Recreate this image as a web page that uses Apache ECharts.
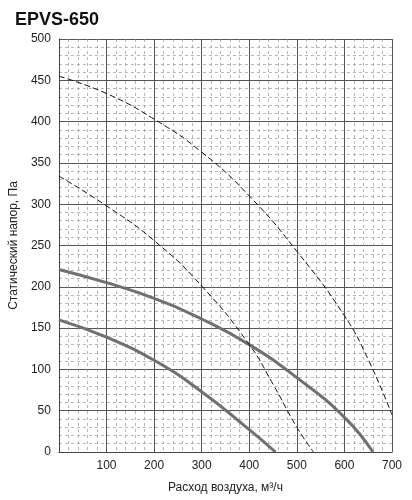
<!DOCTYPE html><html><head><meta charset="utf-8"><script src="https://cdn.jsdelivr.net/npm/echarts@6/dist/echarts.min.js"></script>
<style>html,body{margin:0;background:#fff}#c{width:412px;height:500px}</style></head><body><div id="c"></div><script>
const solid1=[[0,160],[100,139],[200,111],[300,73],[400,27],[455,0]];
const solid2=[[0,221],[100,205],[200,186],[300,161],[400,130],[500,90],[600,42],[660,0]];
const dash1=[[0,334],[100,298],[200,256],[300,201],[400,130],[450,82],[500,30],[535,0]];
const dash2=[[0,455],[100,434],[200,403],[300,363],[400,310],[500,243],[600,165],[650,112],[700,45]];
const xMin=0,xMax=700,yMin=0,yMax=500;
const ch=echarts.init(document.getElementById('c'));
const minorLine={show:true,lineStyle:{color:'#999',type:[3,3],width:0.7}};
const mk=(d,dashed)=>({type:'line',data:d,smooth:true,symbol:'none',lineStyle:dashed?{color:'#111',width:1,type:[6,3]}:{color:'#707070',width:3}});
ch.setOption({animation:false,
title:{text:'EPVS-650',left:10,top:6,textStyle:{fontFamily:'Liberation Sans',fontWeight:'bold',fontSize:18,color:'#111'}},
grid:{left:55,right:20,top:39,bottom:48},
xAxis:{type:'value',min:xMin,max:xMax,interval:100,name:'Расход воздуха, м³/ч',nameLocation:'middle',nameGap:30,
nameTextStyle:{fontSize:12,color:'#222'},axisLabel:{fontSize:12,color:'#222',formatter:v=>v===0?'':v},axisLine:{lineStyle:{color:'#444'}},axisTick:{show:false},
splitLine:{lineStyle:{color:'#555',width:1}},minorTick:{show:false,splitNumber:5},minorSplitLine:minorLine},
yAxis:{type:'value',min:yMin,max:yMax,interval:50,name:'Статический напор, Па',nameLocation:'middle',nameGap:38,
nameTextStyle:{fontSize:12,color:'#222'},axisLabel:{fontSize:12,color:'#222'},axisLine:{show:true,lineStyle:{color:'#444'}},axisTick:{show:false},
splitLine:{lineStyle:{color:'#555',width:1}},minorTick:{show:false,splitNumber:5},minorSplitLine:minorLine},
series:[mk(solid1,false),mk(solid2,false),mk(dash1,true),mk(dash2,true)]});
</script></body></html>
